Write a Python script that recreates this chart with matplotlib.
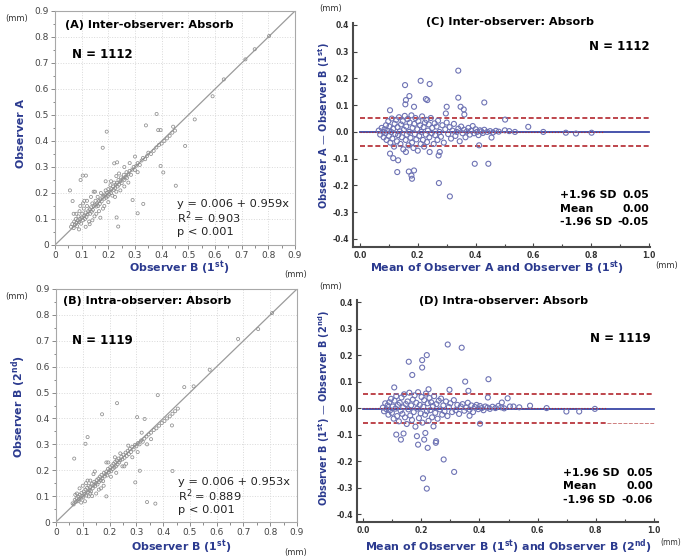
import matplotlib
matplotlib.use("Agg")
import matplotlib.pyplot as plt
from matplotlib.ticker import MultipleLocator, FormatStrFormatter

# ---------------- data ----------------
# (A) inter-observer: observer B (1st) vs observer A
a_x = [0.060, 0.065, 0.070, 0.072, 0.075, 0.078, 0.080, 0.083, 0.085, 0.088, 0.090, 0.092, 0.095, 0.098,
       0.100, 0.102, 0.105, 0.108, 0.110, 0.112, 0.115, 0.118, 0.120, 0.122, 0.125, 0.128, 0.130, 0.132,
       0.135, 0.138, 0.140, 0.142, 0.145, 0.148, 0.150, 0.152, 0.155, 0.158, 0.160, 0.162, 0.165, 0.168,
       0.170, 0.172, 0.175, 0.178, 0.180, 0.182, 0.185, 0.188, 0.190, 0.192, 0.195, 0.198, 0.200, 0.202,
       0.205, 0.208, 0.210, 0.212, 0.215, 0.218, 0.220, 0.222, 0.225, 0.228, 0.230, 0.232, 0.235, 0.238,
       0.240, 0.245, 0.248, 0.250, 0.255, 0.258, 0.260, 0.265, 0.268, 0.270, 0.275, 0.280, 0.285, 0.290,
       0.295, 0.300, 0.305, 0.310, 0.318, 0.325, 0.330, 0.338, 0.345, 0.350, 0.360, 0.370, 0.380, 0.390,
       0.400, 0.410, 0.420, 0.430, 0.440, 0.450,
       0.120, 0.135, 0.150, 0.165, 0.185, 0.200, 0.210, 0.230, 0.245, 0.260, 0.155, 0.105, 0.095, 0.140,
       0.170, 0.190, 0.225, 0.240, 0.275, 0.280, 0.300, 0.310, 0.260, 0.145, 0.115, 0.080, 0.090, 0.070,
       0.110, 0.130,
       0.194, 0.179, 0.381, 0.341, 0.387, 0.488, 0.524, 0.591, 0.633, 0.714, 0.749, 0.803, 0.396, 0.396,
       0.406, 0.453, 0.233, 0.222, 0.104, 0.096, 0.116, 0.056, 0.331, 0.310, 0.231, 0.237, 0.291, 0.066,
       0.443]
a_y = [0.070, 0.080, 0.065, 0.090, 0.078, 0.100, 0.085, 0.072, 0.095, 0.110, 0.088, 0.130, 0.100, 0.082,
       0.105, 0.120, 0.095, 0.140, 0.112, 0.100, 0.125, 0.108, 0.150, 0.118, 0.130, 0.090, 0.138, 0.120,
       0.145, 0.128, 0.160, 0.135, 0.150, 0.110, 0.155, 0.170, 0.148, 0.160, 0.185, 0.150, 0.170, 0.158,
       0.175, 0.200, 0.168, 0.185, 0.140, 0.190, 0.178, 0.195, 0.210, 0.182, 0.200, 0.188, 0.215, 0.195,
       0.205, 0.230, 0.200, 0.215, 0.190, 0.225, 0.212, 0.240, 0.218, 0.232, 0.205, 0.238, 0.225, 0.250,
       0.232, 0.245, 0.260, 0.238, 0.255, 0.270, 0.250, 0.262, 0.280, 0.258, 0.272, 0.285, 0.270, 0.290,
       0.300, 0.288, 0.305, 0.315, 0.308, 0.325, 0.335, 0.330, 0.342, 0.355, 0.350, 0.362, 0.375, 0.385,
       0.390, 0.400, 0.410, 0.420, 0.432, 0.440,
       0.170, 0.185, 0.205, 0.130, 0.150, 0.165, 0.245, 0.265, 0.210, 0.225, 0.120, 0.160, 0.150, 0.095,
       0.105, 0.245, 0.185, 0.275, 0.240, 0.315, 0.340, 0.280, 0.300, 0.205, 0.070, 0.120, 0.060, 0.120,
       0.170, 0.080,
       0.436, 0.374, 0.504, 0.460, 0.442, 0.381, 0.483, 0.572, 0.637, 0.714, 0.753, 0.804, 0.442, 0.304,
       0.279, 0.228, 0.318, 0.314, 0.267, 0.250, 0.267, 0.210, 0.158, 0.122, 0.106, 0.071, 0.173, 0.169,
       0.455]

# (B) intra-observer: observer B (1st) vs observer B (2nd)
b_x = [0.062, 0.066, 0.070, 0.074, 0.077, 0.080, 0.083, 0.086, 0.089, 0.092, 0.095, 0.098, 0.101, 0.104,
       0.107, 0.110, 0.113, 0.116, 0.119, 0.122, 0.125, 0.128, 0.131, 0.134, 0.137, 0.140, 0.143, 0.146,
       0.149, 0.152, 0.155, 0.158, 0.161, 0.164, 0.167, 0.170, 0.173, 0.176, 0.179, 0.182, 0.185, 0.188,
       0.191, 0.194, 0.197, 0.200, 0.203, 0.206, 0.209, 0.212, 0.215, 0.218, 0.221, 0.224, 0.227, 0.230,
       0.233, 0.236, 0.240, 0.244, 0.248, 0.252, 0.256, 0.260, 0.264, 0.268, 0.272, 0.276, 0.280, 0.285,
       0.290, 0.295, 0.300, 0.306, 0.312, 0.318, 0.324, 0.330, 0.338, 0.346, 0.355, 0.365, 0.375, 0.385,
       0.395, 0.405, 0.415, 0.425, 0.435, 0.445, 0.455,
       0.118, 0.128, 0.145, 0.160, 0.178, 0.195, 0.205, 0.225, 0.240, 0.255, 0.150, 0.100, 0.088, 0.135,
       0.168, 0.188, 0.220, 0.248, 0.270, 0.285, 0.305, 0.320, 0.262, 0.140, 0.112, 0.078, 0.094, 0.072,
       0.108, 0.128, 0.340, 0.355,
       0.172, 0.228, 0.380, 0.303, 0.331, 0.433, 0.435, 0.313, 0.296, 0.340, 0.371, 0.118, 0.110, 0.068,
       0.122, 0.188, 0.479, 0.514, 0.574, 0.680, 0.755, 0.807]
b_y = [0.072, 0.068, 0.085, 0.078, 0.092, 0.080, 0.098, 0.088, 0.105, 0.090, 0.112, 0.100, 0.095, 0.118,
       0.108, 0.125, 0.102, 0.132, 0.115, 0.140, 0.122, 0.135, 0.118, 0.148, 0.130, 0.142, 0.155, 0.138,
       0.150, 0.162, 0.145, 0.168, 0.155, 0.175, 0.160, 0.182, 0.168, 0.158, 0.190, 0.176, 0.185, 0.195,
       0.180, 0.205, 0.192, 0.200, 0.212, 0.196, 0.218, 0.205, 0.225, 0.210, 0.232, 0.215, 0.238, 0.222,
       0.245, 0.230, 0.238, 0.252, 0.242, 0.260, 0.248, 0.268, 0.255, 0.275, 0.262, 0.282, 0.270, 0.290,
       0.280, 0.298, 0.292, 0.305, 0.300, 0.315, 0.310, 0.322, 0.330, 0.338, 0.345, 0.355, 0.362, 0.372,
       0.382, 0.390, 0.400, 0.408, 0.418, 0.428, 0.438,
       0.160, 0.110, 0.195, 0.125, 0.140, 0.230, 0.175, 0.190, 0.265, 0.215, 0.110, 0.140, 0.130, 0.100,
       0.130, 0.230, 0.250, 0.215, 0.295, 0.250, 0.270, 0.345, 0.225, 0.185, 0.150, 0.110, 0.075, 0.105,
       0.080, 0.160, 0.300, 0.320,
       0.416, 0.459, 0.490, 0.405, 0.398, 0.373, 0.197, 0.198, 0.153, 0.077, 0.071, 0.328, 0.302, 0.245,
       0.099, 0.099, 0.521, 0.524, 0.588, 0.707, 0.745, 0.807]

# (C) Bland-Altman: mean of A and B (1st), difference A - B (1st)
c_mean = [0.065, 0.070, 0.075, 0.080, 0.082, 0.085, 0.088, 0.090, 0.092, 0.095, 0.098, 0.100, 0.102, 0.105,
          0.108, 0.110, 0.112, 0.115, 0.118, 0.120, 0.122, 0.125, 0.128, 0.130, 0.132, 0.135, 0.138, 0.140,
          0.142, 0.145, 0.148, 0.150, 0.152, 0.155, 0.158, 0.160, 0.162, 0.165, 0.168, 0.170, 0.172, 0.175,
          0.178, 0.180, 0.182, 0.185, 0.188, 0.190, 0.192, 0.195, 0.198, 0.200, 0.202, 0.205, 0.208, 0.210,
          0.212, 0.215, 0.218, 0.220, 0.222, 0.225, 0.228, 0.230, 0.232, 0.235, 0.238, 0.240, 0.245, 0.248,
          0.250, 0.255, 0.258, 0.260, 0.265, 0.268, 0.270, 0.275, 0.280, 0.285, 0.290, 0.295, 0.300, 0.305,
          0.310, 0.315, 0.320, 0.325, 0.330, 0.335, 0.340, 0.345, 0.350, 0.355, 0.360, 0.365, 0.370, 0.375,
          0.380, 0.385, 0.390, 0.395, 0.400, 0.405, 0.410, 0.415, 0.420, 0.425, 0.430, 0.440, 0.450, 0.460,
          0.470, 0.480,
          0.340, 0.210, 0.241, 0.156, 0.228, 0.233, 0.171, 0.159, 0.157, 0.187, 0.340, 0.300, 0.348, 0.359,
          0.361, 0.430, 0.104, 0.297,
          0.104, 0.115, 0.132, 0.129, 0.169, 0.178, 0.180, 0.187, 0.273, 0.311, 0.397, 0.444, 0.412, 0.272,
          0.276, 0.241, 0.159, 0.455,
          0.502, 0.501, 0.516, 0.536, 0.582, 0.634, 0.712, 0.747, 0.801]
c_diff = [0.005, -0.010, 0.015, 0.000, -0.020, 0.010, -0.005, 0.025, -0.030, 0.005, 0.040, -0.015, 0.020, -0.040,
          0.000, 0.050, -0.025, 0.012, -0.055, 0.030, -0.008, 0.045, -0.035, 0.018, -0.012, 0.055, 0.002, -0.045,
          0.028, -0.020, 0.040, -0.065, 0.008, 0.060, -0.030, 0.020, -0.010, 0.048, -0.050, 0.000, 0.035, -0.022,
          0.062, -0.040, 0.015, -0.060, 0.030, -0.008, 0.052, -0.028, 0.010, -0.070, 0.040, -0.015, 0.025, -0.045,
          0.000, 0.058, -0.030, 0.018, -0.055, 0.035, -0.010, 0.045, -0.038, 0.005, 0.028, -0.020, 0.052, -0.005,
          0.015, -0.045, 0.032, -0.012, 0.020, -0.030, 0.042, 0.000, -0.018, 0.025, -0.040, 0.010, 0.035, -0.008,
          0.018, -0.025, 0.005, 0.030, -0.015, 0.000, 0.012, -0.035, 0.020, -0.005, 0.008, -0.020, 0.002, 0.015,
          -0.010, 0.005, 0.022, -0.005, 0.010, 0.000, -0.012, 0.006, 0.002, -0.004, 0.008, 0.000, 0.003, -0.002,
          0.004, 0.001,
          0.229, 0.191, 0.179, 0.175, 0.123, 0.119, 0.134, 0.119, 0.103, 0.094, 0.128, 0.094, 0.094, 0.084,
          0.065, 0.110, 0.081, 0.069,
          -0.081, -0.098, -0.106, -0.150, -0.148, -0.163, -0.175, -0.144, -0.191, -0.241, -0.119, -0.119, -0.050, -0.088,
          -0.075, -0.075, -0.075, -0.021,
          0.046, 0.006, 0.003, 0.000, 0.019, 0.000, -0.003, -0.006, -0.003]
c_limits = [0.052, -0.001, -0.054]
c_stats = ["0.05", "0.00", "-0.05"]

# (D) Bland-Altman: mean of B (1st) and B (2nd), difference B (1st) - B (2nd)
d_mean = [0.068, 0.072, 0.076, 0.080, 0.084, 0.087, 0.090, 0.093, 0.096, 0.099, 0.102, 0.105, 0.108, 0.111,
          0.114, 0.117, 0.120, 0.123, 0.126, 0.129, 0.132, 0.135, 0.138, 0.141, 0.144, 0.147, 0.150, 0.153,
          0.156, 0.159, 0.162, 0.165, 0.168, 0.171, 0.174, 0.177, 0.180, 0.183, 0.186, 0.189, 0.192, 0.195,
          0.198, 0.201, 0.204, 0.207, 0.210, 0.213, 0.216, 0.219, 0.222, 0.225, 0.228, 0.231, 0.234, 0.237,
          0.240, 0.244, 0.248, 0.252, 0.256, 0.260, 0.264, 0.268, 0.272, 0.276, 0.280, 0.285, 0.290, 0.295,
          0.300, 0.306, 0.312, 0.318, 0.324, 0.330, 0.336, 0.342, 0.348, 0.354, 0.360, 0.366, 0.372, 0.378,
          0.384, 0.390, 0.396, 0.402, 0.408, 0.414, 0.420, 0.428, 0.436, 0.445, 0.455, 0.465, 0.475, 0.485,
          0.291, 0.339, 0.219, 0.203, 0.157, 0.203, 0.169, 0.431, 0.351, 0.107, 0.225, 0.297, 0.362, 0.429,
          0.497, 0.477,
          0.114, 0.130, 0.139, 0.185, 0.214, 0.210, 0.189, 0.222, 0.251, 0.250, 0.277, 0.313, 0.206, 0.219,
          0.402, 0.366, 0.242,
          0.505, 0.517, 0.537, 0.574, 0.631, 0.699, 0.743, 0.797]
d_diff = [0.002, -0.012, 0.018, -0.004, 0.010, -0.025, 0.022, -0.008, 0.035, -0.018, 0.006, -0.040, 0.028, -0.002,
          0.045, -0.030, 0.012, -0.050, 0.020, -0.010, 0.040, -0.022, 0.003, 0.052, -0.035, 0.015, -0.060, 0.025,
          -0.005, 0.058, -0.028, 0.010, -0.045, 0.032, -0.015, 0.048, -0.070, 0.020, -0.002, 0.060, -0.038, 0.012,
          -0.020, 0.042, -0.055, 0.005, 0.030, -0.025, 0.055, -0.012, 0.018, -0.048, 0.038, -0.008, 0.022, -0.035,
          0.008, 0.045, -0.018, 0.015, -0.040, 0.028, -0.005, 0.036, -0.025, 0.010, -0.012, 0.025, -0.030, 0.004,
          0.018, -0.015, 0.030, -0.008, 0.012, -0.022, 0.006, 0.015, -0.010, 0.002, 0.020, -0.006, 0.010, -0.015,
          0.004, 0.012, -0.004, 0.008, 0.000, -0.008, 0.006, 0.002, -0.003, 0.005, 0.000, 0.008, 0.003, -0.001,
          0.240, 0.228, 0.200, 0.181, 0.175, 0.153, 0.125, 0.109, 0.100, 0.078, 0.071, 0.069, 0.065, 0.040,
          0.037, 0.021,
          -0.100, -0.119, -0.096, -0.106, -0.094, -0.119, -0.138, -0.150, -0.125, -0.131, -0.194, -0.241, -0.265, -0.304,
          -0.059, -0.029, -0.069,
          0.006, 0.006, 0.003, 0.009, 0.000, -0.013, -0.013, -0.003]
d_limits = [0.054, -0.004, -0.057]
d_stats = ["0.05", "0.00", "-0.06"]

NAVY = "#2b3a8f"
PT_GRAY = "#8e8e8e"
BA_BLUE = "#6e73b4"
MEAN_BLUE = "#3947a6"
RED = "#b3262d"
LABEL_FS = 7.9

W, H = 684, 558
fig = plt.figure(figsize=(W / 100, H / 100), dpi=100)


def rect(l, t, r, b):
    return [l / W, 1 - b / H, (r - l) / W, (b - t) / H]


def txt(x, y, s, **kw):
    fig.text(x / W, 1 - y / H, s, **kw)


def scatter_panel(r, xs, ys):
    ax = fig.add_axes(r)
    ax.grid(True, color="#d9d9d9", ls=":", lw=0.7)
    ax.set_axisbelow(True)
    ax.plot([0, 0.9], [0, 0.9], color="#9b9b9b", lw=0.9, zorder=2)
    ax.scatter(xs, ys, s=5, facecolors="none", edgecolors=PT_GRAY, linewidths=0.55, zorder=3)
    ax.set_xlim(0, 0.9)
    ax.set_ylim(0, 0.9)
    ticks = [0, 0.1, 0.2, 0.3, 0.4, 0.5, 0.6, 0.7, 0.8, 0.9]
    labels = ["0", "0.1", "0.2", "0.3", "0.4", "0.5", "0.6", "0.7", "0.8", "0.9"]
    ax.set_xticks(ticks, labels)
    ax.set_yticks(ticks, labels)
    ax.xaxis.set_minor_locator(MultipleLocator(0.05))
    ax.yaxis.set_minor_locator(MultipleLocator(0.05))
    ax.tick_params(which="both", direction="out", colors="#777777", labelcolor="#444444",
                   labelsize=6.5, length=3, width=0.6, pad=1.5)
    ax.tick_params(which="minor", length=1.8)
    for sp in ax.spines.values():
        sp.set_color("#a8a8a8")
        sp.set_linewidth(0.8)
    return ax


def ba_panel(r, xs, ds, lim, xlim, ylim, lower_split=None):
    ax = fig.add_axes(r)
    ax.scatter(xs, ds, s=13, facecolors="none", edgecolors=BA_BLUE, linewidths=0.8, zorder=3)
    ax.plot([0, 1.0], [lim[0], lim[0]], color=RED, ls=(0, (3, 1.6)), lw=1.2, zorder=2)
    ax.plot([0, 0.84], [0, 0], color=RED, ls=":", lw=0.8, zorder=4)
    ax.plot([0, 1.0], [lim[1], lim[1]], color=MEAN_BLUE, lw=1.3, zorder=2)
    if lower_split is None:
        ax.plot([0, 1.0], [lim[2], lim[2]], color=RED, ls=(0, (3, 1.6)), lw=1.2, zorder=2)
    else:
        ax.plot([0, lower_split], [lim[2], lim[2]], color=RED, ls=(0, (3, 1.6)), lw=1.2, zorder=2)
        ax.plot([lower_split, 1.0], [lim[2], lim[2]], color="#cf7f7f", ls=(0, (4, 1.5)), lw=0.7, zorder=2)
    ax.set_xlim(*xlim)
    ax.set_ylim(*ylim)
    ax.set_xticks([0.0, 0.2, 0.4, 0.6, 0.8, 1.0])
    ax.set_yticks([-0.4, -0.3, -0.2, -0.1, 0.0, 0.1, 0.2, 0.3, 0.4])
    ax.xaxis.set_minor_locator(MultipleLocator(0.1))
    ax.xaxis.set_major_formatter(FormatStrFormatter("%.1f"))
    ax.yaxis.set_major_formatter(FormatStrFormatter("%.1f"))
    ax.tick_params(which="both", direction="in", colors="#444444", labelcolor="#333333",
                   labelsize=5.5, length=3, width=0.8, pad=3)
    ax.tick_params(which="minor", length=2)
    for lab in ax.get_xticklabels() + ax.get_yticklabels():
        lab.set_fontweight("bold")
    ax.spines["top"].set_visible(False)
    ax.spines["right"].set_visible(False)
    for side in ("left", "bottom"):
        ax.spines[side].set_color("#4a4a4a")
        ax.spines[side].set_linewidth(1.5)
    return ax


# ---------------- panel A ----------------
scatter_panel(rect(55, 11, 295, 245), a_x, a_y)
txt(17, 18, "(mm)", fontsize=6, color="#333333", ha="center", va="center")
txt(65, 25, "(A) Inter-observer: Absorb", fontsize=8.1, fontweight="bold", va="center")
txt(72, 54, "N = 1112", fontsize=8.5, fontweight="bold", va="center")
txt(177, 204, "y = 0.006 + 0.959x", fontsize=8.2, va="center", color="#222222")
txt(177, 218, "R$^2$ = 0.903", fontsize=8.2, va="center", color="#222222")
txt(177, 232, "p < 0.001", fontsize=8.2, va="center", color="#222222")
txt(21, 133, "Observer A", fontsize=LABEL_FS, fontweight="bold", color=NAVY, rotation=90,
    ha="center", va="center")
txt(179, 268, r"Observer B (1$^{\mathbf{st}}$)", fontsize=LABEL_FS, fontweight="bold", color=NAVY,
    ha="center", va="center")
txt(296, 274, "(mm)", fontsize=6, color="#333333", ha="center", va="center")

# ---------------- panel B ----------------
scatter_panel(rect(56, 289, 297, 522), b_x, b_y)
txt(17, 297, "(mm)", fontsize=6, color="#333333", ha="center", va="center")
txt(63, 301, "(B) Intra-observer: Absorb", fontsize=8.1, fontweight="bold", va="center")
txt(72, 340, "N = 1119", fontsize=8.5, fontweight="bold", va="center")
txt(178, 482, "y = 0.006 + 0.953x", fontsize=8.2, va="center", color="#222222")
txt(178, 496, "R$^2$ = 0.889", fontsize=8.2, va="center", color="#222222")
txt(178, 510, "p < 0.001", fontsize=8.2, va="center", color="#222222")
txt(19, 407, r"Observer B (2$^{\mathbf{nd}}$)", fontsize=LABEL_FS, fontweight="bold", color=NAVY,
    rotation=90, ha="center", va="center")
txt(181, 547, r"Observer B (1$^{\mathbf{st}}$)", fontsize=LABEL_FS, fontweight="bold", color=NAVY,
    ha="center", va="center")
txt(296, 553, "(mm)", fontsize=6, color="#333333", ha="center", va="center")

# ---------------- panel C ----------------
ba_panel(rect(353, 23, 650, 247), c_mean, c_diff, c_limits, (-0.024, 1.003), (-0.43, 0.407))
txt(331, 8, "(mm)", fontsize=6, color="#333333", ha="center", va="center")
txt(510, 22, "(C) Inter-observer: Absorb", fontsize=8.1, fontweight="bold", ha="center", va="center")
txt(650, 46, "N = 1112", fontsize=8.5, fontweight="bold", ha="right", va="center")
for i, (lab, val) in enumerate(zip(["+1.96 SD", "Mean", "-1.96 SD"], c_stats)):
    txt(560, 195 + 13.5 * i, lab, fontsize=7.8, fontweight="bold", va="center")
    txt(649, 195 + 13.5 * i, val, fontsize=7.8, fontweight="bold", ha="right", va="center")
txt(324, 126, "Observer A \u2014 Observer B (1$^{\\mathbf{st}}$)", fontsize=7.0, fontweight="bold",
    color=NAVY, rotation=90, ha="center", va="center")
txt(497, 268, r"Mean of Observer A and Observer B (1$^{\mathbf{st}}$)", fontsize=LABEL_FS,
    fontweight="bold", color=NAVY, ha="center", va="center")
txt(667, 266, "(mm)", fontsize=6, color="#333333", ha="center", va="center")

# ---------------- panel D ----------------
ba_panel(rect(357, 300, 658, 522), d_mean, d_diff, d_limits, (-0.021, 1.014), (-0.43, 0.408),
         lower_split=0.84)
txt(331, 286, "(mm)", fontsize=6, color="#333333", ha="center", va="center")
txt(504, 301, "(D) Intra-observer: Absorb", fontsize=8.1, fontweight="bold", ha="center", va="center")
txt(651, 338, "N = 1119", fontsize=8.5, fontweight="bold", ha="right", va="center")
for i, (lab, val) in enumerate(zip(["+1.96 SD", "Mean", "-1.96 SD"], d_stats)):
    txt(563, 473 + 13.3 * i, lab, fontsize=7.8, fontweight="bold", va="center")
    txt(653, 473 + 13.3 * i, val, fontsize=7.8, fontweight="bold", ha="right", va="center")
txt(324, 408, "Observer B (1$^{\\mathbf{st}}$) \u2014 Observer B (2$^{\\mathbf{nd}}$)", fontsize=7.0,
    fontweight="bold", color=NAVY, rotation=90, ha="center", va="center")
txt(508, 547, r"Mean of Observer B (1$^{\mathbf{st}}$) and Observer B (2$^{\mathbf{nd}}$)",
    fontsize=LABEL_FS, fontweight="bold", color=NAVY, ha="center", va="center")
txt(671, 543, "(mm)", fontsize=5.5, color="#333333", ha="center", va="center")

fig.savefig("out.png", dpi=100)
